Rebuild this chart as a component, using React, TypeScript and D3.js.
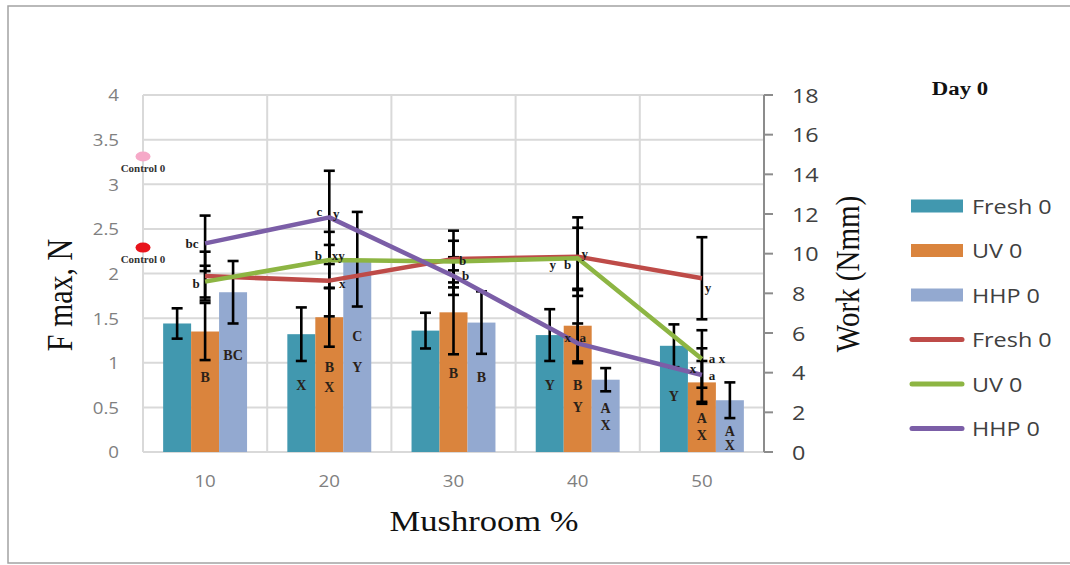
import React from "react";
import * as d3 from "d3";

// ---------- data ----------
const categories = ["10", "20", "30", "40", "50"];
const barNames = ["Fresh 0", "UV 0", "HHP 0"];
const lineNames = ["Fresh 0", "UV 0", "HHP 0"];

// F max (N), left axis
const freshF = [1.44, 1.32, 1.36, 1.31, 1.19];
const uvF = [1.35, 1.51, 1.565, 1.415, 0.78];
const hhpF = [1.79, 2.16, 1.45, 0.81, 0.58];
const freshFErr = [0.17, 0.3, 0.2, 0.29, 0.24];
const uvFErr = [0.32, 0.33, 0.47, 0.4, 0.24];
const hhpFErr = [0.35, 0.53, 0.35, 0.13, 0.2];

// Work (Nmm), right axis
const freshWork = [8.87, 8.64, 9.73, 9.85, 8.76];
const uvWork = [8.59, 9.68, 9.6, 9.77, 4.69];
const hhpWork = [10.52, 11.83, 8.87, 5.48, 3.88];
const freshWorkErr = [1.23, 1.8, 1.43, 1.98, 2.07];
const uvWorkErr = [0.8, 1.42, 1.05, 1.54, 1.45];
const hhpWorkErr = [1.4, 2.35, 0.95, 1.0, 1.35];

// control points (left axis value)
const controlValues = [3.31, 2.29];
const controlLabels = ["Control 0", "Control 0"];

const leftTicks = [0, 0.5, 1, 1.5, 2, 2.5, 3, 3.5, 4];
const rightTicks = [0, 2, 4, 6, 8, 10, 12, 14, 16, 18];

// letters inside bars: [category][bar] -> list of {t, at (F value)}
const barLetters = [
  [[], [{ t: "B", at: 0.83 }], [{ t: "BC", at: 1.08 }]],
  [[{ t: "X", at: 0.74 }], [{ t: "B", at: 0.95 }, { t: "X", at: 0.72 }], [{ t: "C", at: 1.29 }, { t: "Y", at: 0.95 }]],
  [[], [{ t: "B", at: 0.885 }], [{ t: "B", at: 0.84 }]],
  [[{ t: "Y", at: 0.74 }], [{ t: "B", at: 0.75 }, { t: "Y", at: 0.5 }], [{ t: "A", at: 0.49 }, { t: "X", at: 0.3 }]],
  [[{ t: "Y", at: 0.62 }], [{ t: "A", at: 0.37 }, { t: "X", at: 0.18 }], [{ t: "A", at: 0.235 }, { t: "X", at: 0.075 }]],
];

// letters near line points: series index, category index, text, offsets
const lineLetters = [
  { s: 2, c: 0, t: "bc", dx: -13, dy: 0 },
  { s: 1, c: 0, t: "b", dx: -9, dy: 2 },
  { s: 2, c: 1, t: "c", dx: -10, dy: -6 },
  { s: 2, c: 1, t: "y", dx: 7, dy: -4 },
  { s: 1, c: 1, t: "b", dx: -11, dy: -5 },
  { s: 1, c: 1, t: "xy", dx: 9, dy: -5 },
  { s: 0, c: 1, t: "x", dx: 13, dy: 3 },
  { s: 0, c: 2, t: "b", dx: 9, dy: 1 },
  { s: 2, c: 2, t: "b", dx: 12, dy: -1 },
  { s: 1, c: 3, t: "y", dx: -25, dy: 6 },
  { s: 1, c: 3, t: "b", dx: -10, dy: 6 },
  { s: 0, c: 3, t: "y", dx: 7, dy: -3 },
  { s: 2, c: 3, t: "x", dx: -10, dy: -6 },
  { s: 2, c: 3, t: "a", dx: 5, dy: -6 },
  { s: 0, c: 4, t: "y", dx: 6, dy: 9 },
  { s: 1, c: 4, t: "a", dx: 10, dy: 0 },
  { s: 1, c: 4, t: "x", dx: 20, dy: 0 },
  { s: 2, c: 4, t: "x", dx: -9, dy: -7 },
  { s: 2, c: 4, t: "a", dx: 10, dy: 0 },
];

// ---------- styles ----------
const barColors = ["#4198AF", "#DA843D", "#93A9D0"];
const lineColors = ["#BE4B48", "#8DB543", "#7B5EA7"];
const controlColors = ["#F6A9C8", "#E8131B"];
const SANS = "'Open Sans', 'Liberation Sans', sans-serif";
const SERIF = "'Liberation Serif', 'Times New Roman', serif";
const SX = 1.17;

const W = 1070;
const H = 565;
const plot = { left: 143, right: 764, top: 95, bottom: 452 };

function T(props: any) {
  const { x, y, sx = SX, rotate = 0, children, ...rest } = props;
  const tr = rotate
    ? `translate(${x},${y}) rotate(${rotate}) scale(1,${sx})`
    : `translate(${x},${y}) scale(${sx},1)`;
  return (
    <text transform={tr} dominantBaseline="central" {...rest}>
      {children}
    </text>
  );
}

export default function App() {
  const x0 = d3.scaleBand<string>().domain(categories).range([plot.left, plot.right]).paddingInner(0).paddingOuter(0);
  const x1 = d3.scaleBand<string>().domain(barNames).range([0, x0.bandwidth()]).paddingInner(0).paddingOuter(0.72);
  const yL = d3.scaleLinear().domain([0, 4]).range([plot.bottom, plot.top]);
  const yR = d3.scaleLinear().domain([0, 18]).range([plot.bottom, plot.top]);

  const barVals = [freshF, uvF, hhpF];
  const barErrs = [freshFErr, uvFErr, hhpFErr];
  const workVals = [freshWork, uvWork, hhpWork];
  const workErrs = [freshWorkErr, uvWorkErr, hhpWorkErr];

  const cx = (c: string) => (x0(c) as number) + x0.bandwidth() / 2;
  const line = d3
    .line<number>()
    .x((_, i) => cx(categories[i]))
    .y((v) => yR(v));

  const cap = 5.5;
  const errBar = (x: number, yTop: number, yBot: number, key: string) => (
    <g key={key} stroke="#000" strokeWidth={2.6}>
      <line x1={x} x2={x} y1={yTop} y2={yBot} />
      <line x1={x - cap} x2={x + cap} y1={yTop} y2={yTop} />
      <line x1={x - cap} x2={x + cap} y1={yBot} y2={yBot} />
    </g>
  );

  return (
    <svg width={W} height={H} style={{ position: "absolute", left: 0, top: 0, background: "#fff" }}>
      <rect x={0} y={0} width={W} height={H} fill="#fff" />
      {/* frame */}
      <rect x={8} y={6} width={W} height={557} fill="none" stroke="#a3a3a3" strokeWidth={1.5} />

      {/* horizontal gridlines */}
      {leftTicks.map((t) => (
        <line key={"hg" + t} x1={plot.left} x2={plot.right} y1={yL(t)} y2={yL(t)} stroke="#d9d9d9" strokeWidth={2} />
      ))}
      {/* vertical gridlines at category boundaries */}
      {categories.map((c) => (
        <line key={"vg" + c} x1={x0(c)} x2={x0(c)} y1={plot.top} y2={plot.bottom} stroke="#d9d9d9" strokeWidth={2} />
      ))}

      {/* left tick labels */}
      {leftTicks.map((t) => (
        <T key={"lt" + t} x={119} y={yL(t)} textAnchor="end" fontFamily={SANS} fontSize={16} fill="#808080">
          {String(t)}
        </T>
      ))}

      {/* right axis */}
      <line x1={plot.right} x2={plot.right} y1={plot.top} y2={plot.bottom} stroke="#8c8c8c" strokeWidth={2} />
      {rightTicks.map((t) => (
        <g key={"rt" + t}>
          <line x1={plot.right} x2={plot.right + 9} y1={yR(t)} y2={yR(t)} stroke="#8c8c8c" strokeWidth={2} />
          <T x={792} y={yR(t)} textAnchor="start" fontFamily={SANS} fontSize={20} fill="#404040">
            {String(t)}
          </T>
        </g>
      ))}

      {/* x tick labels */}
      {categories.map((c) => (
        <T key={"xt" + c} x={cx(c)} y={481} textAnchor="middle" fontFamily={SANS} fontSize={16} fill="#808080">
          {c}
        </T>
      ))}

      {/* bars */}
      {categories.map((c, ci) =>
        barNames.map((b, bi) => {
          const v = barVals[bi][ci];
          const bx = (x0(c) as number) + (x1(b) as number);
          return (
            <rect
              key={"bar" + c + b}
              x={bx}
              y={yL(v)}
              width={x1.bandwidth()}
              height={plot.bottom - yL(v)}
              fill={barColors[bi]}
            />
          );
        })
      )}

      {/* bar letters */}
      {categories.map((c, ci) =>
        barNames.map((b, bi) =>
          barLetters[ci][bi].map((l, li) => (
            <T
              key={"bl" + ci + bi + li}
              x={(x0(c) as number) + (x1(b) as number) + x1.bandwidth() / 2}
              y={yL(l.at)}
              sx={1}
              textAnchor="middle"
              fontFamily={SERIF}
              fontWeight="bold"
              fontSize={14}
              fill="#2a2118"
            >
              {l.t}
            </T>
          ))
        )
      )}

      {/* bar error bars */}
      {categories.map((c, ci) =>
        barNames.map((b, bi) => {
          const v = barVals[bi][ci];
          const e = barErrs[bi][ci];
          const bx = (x0(c) as number) + (x1(b) as number) + x1.bandwidth() / 2;
          return errBar(bx, yL(v + e), yL(v - e), "be" + ci + bi);
        })
      )}

      {/* line error bars */}
      {workVals.map((vals, si) =>
        vals.map((v, ci) => errBar(cx(categories[ci]), yR(v + workErrs[si][ci]), yR(v - workErrs[si][ci]), "le" + si + ci))
      )}

      {/* lines */}
      {workVals.map((vals, si) => (
        <path key={"ln" + si} d={line(vals) as string} fill="none" stroke={lineColors[si]} strokeWidth={4.5} strokeLinejoin="round" />
      ))}

      {/* line letters */}
      {lineLetters.map((l, i) => (
        <T
          key={"ll" + i}
          x={cx(categories[l.c]) + l.dx}
          y={yR(workVals[l.s][l.c]) + l.dy}
          sx={1}
          textAnchor="middle"
          fontFamily={SERIF}
          fontWeight="bold"
          fontSize={13}
          fill="#1a1a1a"
        >
          {l.t}
        </T>
      ))}

      {/* control points */}
      {controlValues.map((v, i) => (
        <g key={"ctl" + i}>
          <ellipse cx={plot.left} cy={yL(v)} rx={7.5} ry={5} fill={controlColors[i]} />
          <T x={plot.left} y={yL(v) + 12} sx={1.1} textAnchor="middle" fontFamily={SERIF} fontWeight="bold" fontSize={10} fill="#333">
            {controlLabels[i]}
          </T>
        </g>
      ))}

      {/* axis titles */}
      <T x={60} y={295} rotate={-90} textAnchor="middle" fontFamily={SERIF} fontSize={30} fill="#111">
        F max, N
      </T>
      <T x={848} y={274} rotate={-90} textAnchor="middle" fontFamily={SERIF} fontSize={29} fill="#111">
        Work (Nmm)
      </T>
      <T x={484} y={521} textAnchor="middle" fontFamily={SERIF} fontSize={29.5} fill="#111">
        Mushroom %
      </T>
      <T x={960} y={89} sx={1.2} textAnchor="middle" fontFamily={SERIF} fontWeight="bold" fontSize={19} fill="#111">
        Day 0
      </T>

      {/* legend */}
      {barNames.map((n, i) => {
        const ly = 206 + i * 44.5;
        return (
          <g key={"lgb" + i}>
            <rect x={911} y={ly - 6.5} width={52} height={13} fill={barColors[i]} />
            <T x={972} y={ly} textAnchor="start" fontFamily={SANS} fontSize={20} fill="#404040">
              {n}
            </T>
          </g>
        );
      })}
      {lineNames.map((n, i) => {
        const ly = 206 + (i + 3) * 44.5;
        return (
          <g key={"lgl" + i}>
            <line x1={912} x2={962} y1={ly} y2={ly} stroke={lineColors[i]} strokeWidth={5} strokeLinecap="round" />
            <T x={972} y={ly} textAnchor="start" fontFamily={SANS} fontSize={20} fill="#404040">
              {n}
            </T>
          </g>
        );
      })}
    </svg>
  );
}
